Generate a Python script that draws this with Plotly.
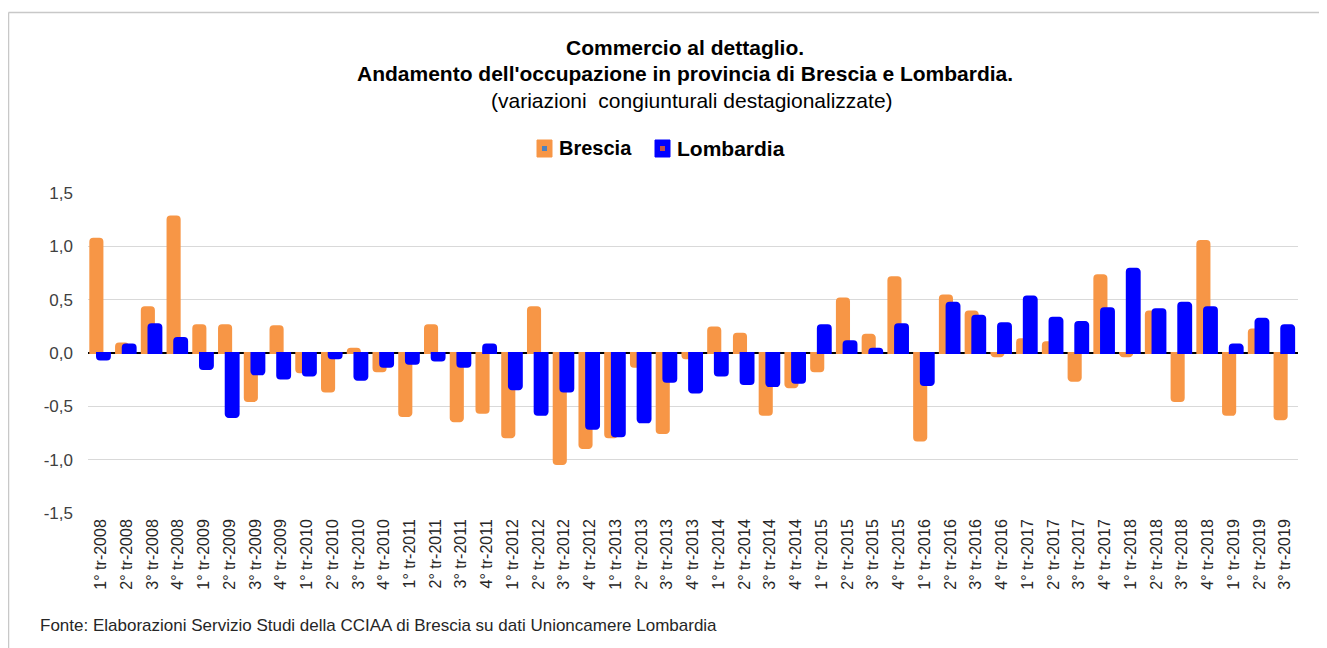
import plotly.graph_objects as go

quarters = ["1° tr-", "2° tr-", "3° tr-", "4° tr-"]
years = list(range(2008, 2020))
categories = [q + str(y) for y in years for q in quarters][:47]

brescia = [1.07, 0.09, 0.43, 1.28, 0.26, 0.26, -0.45, 0.25, -0.18, -0.36, 0.04, -0.17,
           -0.59, 0.26, -0.64, -0.56, -0.79, 0.43, -1.04, -0.89, -0.79, -0.13, -0.75, -0.05,
           0.24, 0.18, -0.58, -0.32, -0.17, 0.51, 0.17, 0.71, -0.82, 0.54, 0.39, -0.03,
           0.13, 0.10, -0.26, 0.73, -0.03, 0.39, -0.45, 1.05, -0.58, 0.22, -0.62]
lombardia = [-0.06, 0.08, 0.27, 0.14, -0.15, -0.60, -0.20, -0.24, -0.21, -0.05, -0.25, -0.13,
             -0.10, -0.07, -0.13, 0.08, -0.34, -0.58, -0.36, -0.71, -0.78, -0.65, -0.27, -0.37,
             -0.21, -0.29, -0.31, -0.28, 0.26, 0.11, 0.04, 0.27, -0.30, 0.47, 0.35, 0.28,
             0.53, 0.33, 0.29, 0.42, 0.79, 0.41, 0.47, 0.43, 0.08, 0.32, 0.26]

y_tickvals = [-1.5, -1.0, -0.5, 0.0, 0.5, 1.0, 1.5]
y_ticktext = ["-1,5", "-1,0", "-0,5", "0,0", "0,5", "1,0", "1,5"]

ORANGE = "#F79646"
BLUE = "#0000FF"
FONT = "Liberation Sans, Arial, sans-serif"

fig = go.Figure()
fig.add_trace(go.Bar(x=categories, y=brescia, name="Brescia",
                     marker=dict(color=ORANGE, line=dict(color=ORANGE, width=2), cornerradius=3),
                     offset=-0.41, width=0.47))
fig.add_trace(go.Bar(x=categories, y=lombardia, name="Lombardia",
                     marker=dict(color=BLUE, line=dict(color=BLUE, width=2), cornerradius=3),
                     offset=-0.15, width=0.50))

OFF = 8  # page body margin
W, H = 1327 - OFF, 648 - OFF
L, T = 88 - OFF, 193 - OFF
pw, ph = 1210, 320
R, B = W - L - pw, H - T - ph


def px(x):
    return (x - OFF - L) / pw


def py(y):
    return (H - B - (y - OFF)) / ph


annotations = [
    dict(text="<b>Commercio al dettaglio.</b>", x=px(685), y=py(47), font=dict(size=21, color="black")),
    dict(text="<b>Andamento dell'occupazione in provincia di Brescia e Lombardia.</b>", x=px(685), y=py(73),
         font=dict(size=21, color="black")),
    dict(text="(variazioni  congiunturali destagionalizzate)", x=px(692), y=py(100),
         font=dict(size=21, color="black")),
    dict(text="<b>Brescia</b>", x=px(557), y=py(148), xanchor="left", font=dict(size=20, color="black")),
    dict(text="<b>Lombardia</b>", x=px(675), y=py(148), xanchor="left", font=dict(size=21, color="black")),
    dict(text="Fonte: Elaborazioni Servizio Studi della CCIAA di Brescia su dati Unioncamere Lombardia",
         x=px(38), y=py(625), xanchor="left", font=dict(size=17, color="#262626")),
]
for a in annotations:
    a.update(xref="paper", yref="paper", showarrow=False)
    a.setdefault("xanchor", "center")
    a["yanchor"] = "middle"
    a["font"]["family"] = FONT

shapes = [
    # outer frame (top and left visible)
    dict(type="line", xref="paper", yref="paper", x0=px(8.5), x1=px(1330), y0=py(12.5), y1=py(12.5),
         line=dict(color="#c8c8c8", width=1.5), layer="below"),
    dict(type="line", xref="paper", yref="paper", x0=px(8.5), x1=px(8.5), y0=py(12.5), y1=py(660),
         line=dict(color="#c8c8c8", width=1.5), layer="below"),
    # legend swatches
    dict(type="rect", xref="paper", yref="paper", x0=px(537), x1=px(552), y0=py(157), y1=py(140),
         fillcolor=ORANGE, line=dict(color=ORANGE, width=1)),
    dict(type="rect", xref="paper", yref="paper", x0=px(542), x1=px(547), y0=py(151), y1=py(146),
         fillcolor="#4F81BD", line=dict(width=0)),
    dict(type="rect", xref="paper", yref="paper", x0=px(655), x1=px(670), y0=py(157), y1=py(140),
         fillcolor=BLUE, line=dict(color=BLUE, width=1)),
    dict(type="rect", xref="paper", yref="paper", x0=px(660), x1=px(665), y0=py(151), y1=py(146),
         fillcolor="#C0504D", line=dict(width=0)),
]

fig.update_layout(
    width=W, height=H,
    margin=dict(l=L, r=R, t=T, b=B, autoexpand=False),
    barmode="overlay",
    showlegend=False,
    plot_bgcolor="white", paper_bgcolor="white",
    font=dict(family=FONT, color="#404040"),
    annotations=annotations,
    shapes=shapes,
)
fig.update_yaxes(range=[-1.5, 1.5], tickvals=y_tickvals, ticktext=y_ticktext, showgrid=True,
                 gridcolor="#d9d9d9", gridwidth=1.3, zeroline=True, zerolinecolor="black",
                 zerolinewidth=1.5, showline=False, tickfont=dict(size=17, color="#404040"),
                 ticklabelstandoff=14)
fig.update_xaxes(tickangle=-90, tickfont=dict(size=16, color="#262626"), showgrid=False,
                 showline=False, ticks="", ticklabelstandoff=2, range=[-0.5, 46.5])

fig.write_html("out.html")
